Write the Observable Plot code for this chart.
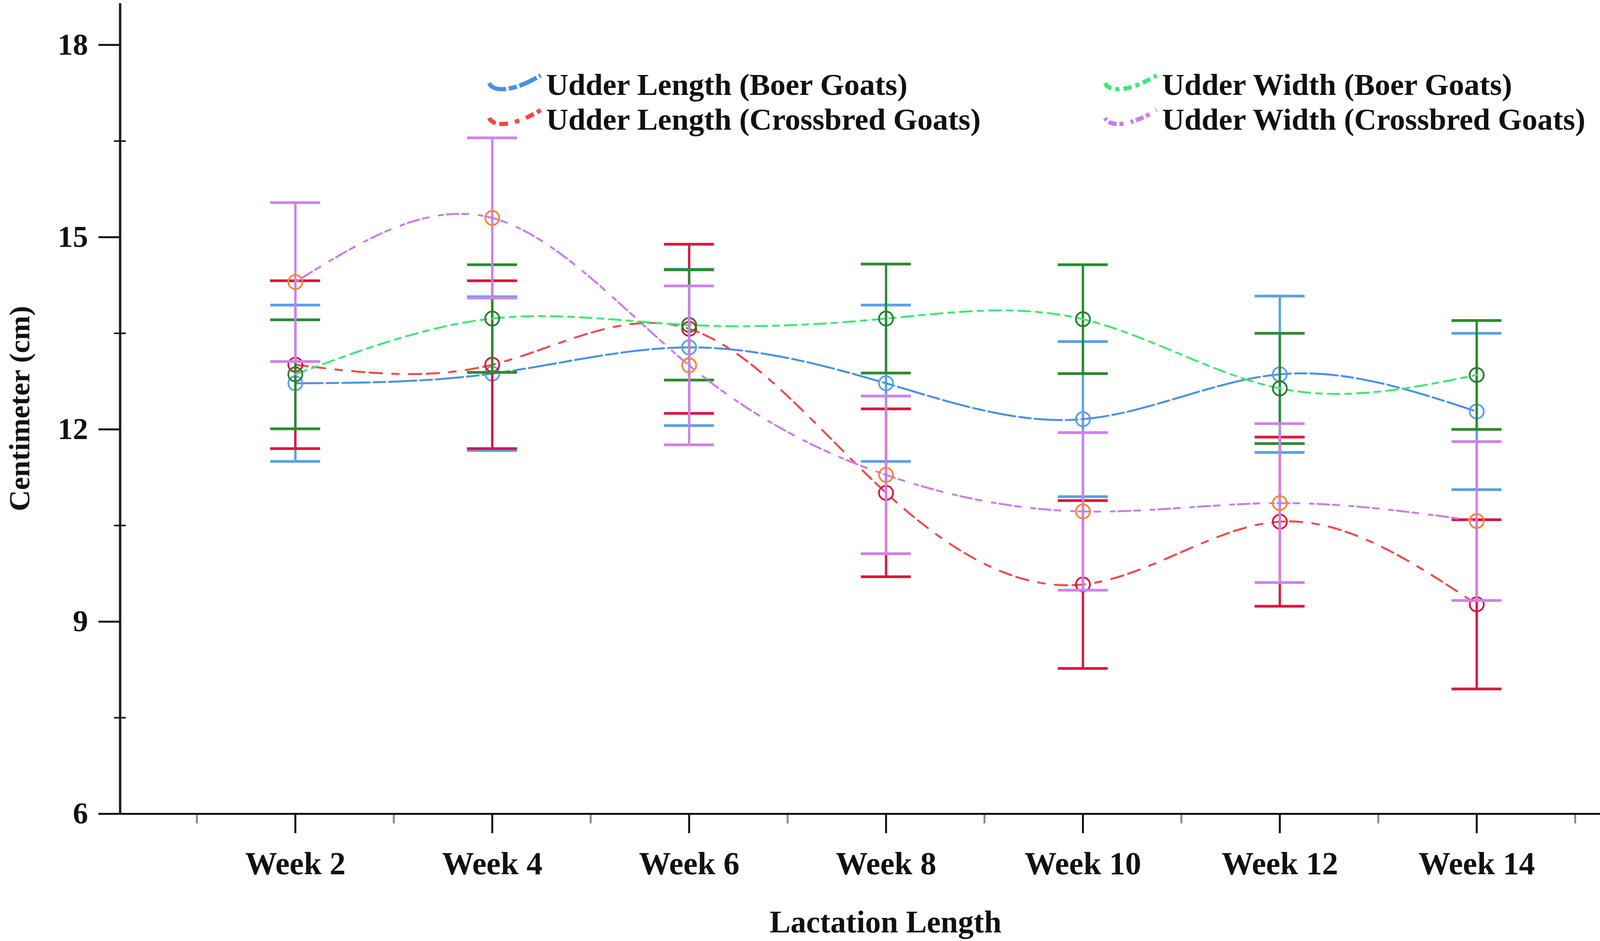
<!DOCTYPE html>
<html>
<head>
<meta charset="utf-8">
<script src="https://cdn.jsdelivr.net/npm/d3@7"></script>
<script src="https://cdn.jsdelivr.net/npm/@observablehq/plot@0.6"></script>
<style>
  html, body { margin: 0; padding: 0; background: #ffffff; }
  #wrap { position: relative; width: 4242px; height: 2409px; background: #fff; }
  #wrap svg { display: block; }
  #legend { position: absolute; left: 0; top: 0; pointer-events: none; }
</style>
</head>
<body>
<div id="wrap"></div>
<script>
// ---------- data ----------
const weeks = [2, 4, 6, 8, 10, 12, 14];
const weekLabels = ["Week 2", "Week 4", "Week 6", "Week 8", "Week 10", "Week 12", "Week 14"];
const minorWeekTicks = [1, 3, 5, 7, 9, 11, 13, 15];
const yTicks = [6, 9, 12, 15, 18];
const yMinorTicks = [7.5, 10.5, 13.5, 16.5];

const seriesNames = [
  "Udder Length (Boer Goats)",
  "Udder Length (Crossbred Goats)",
  "Udder Width (Boer Goats)",
  "Udder Width (Crossbred Goats)"
];

const lengthBoer      = [12.72, 12.87, 13.28, 12.72, 12.16, 12.86, 12.28];
const lengthBoerErr   = [1.22, 1.20, 1.22, 1.22, 1.21, 1.22, 1.22];
const lengthCross     = [13.01, 13.01, 13.57, 11.01, 9.58, 10.56, 9.27];
const lengthCrossErr  = [1.31, 1.31, 1.32, 1.31, 1.31, 1.32, 1.32];
const widthBoer       = [12.86, 13.73, 13.63, 13.73, 13.72, 12.64, 12.85];
const widthBoerErr    = [0.85, 0.84, 0.86, 0.85, 0.85, 0.86, 0.85];
const widthCross      = [14.30, 15.30, 13.00, 11.29, 10.72, 10.85, 10.57];
const widthCrossErr   = [1.24, 1.25, 1.24, 1.23, 1.23, 1.24, 1.24];

const seriesMeans = [lengthBoer, lengthCross, widthBoer, widthCross];
const seriesErrs  = [lengthBoerErr, lengthCrossErr, widthBoerErr, widthCrossErr];

// ---------- styles ----------
const styles = [
  {line: "#4a90e2", bar: "#5c9fe9", dot: "#5c9fe9", dash: "70,10,30,10"},
  {line: "#f24848", bar: "#dc1640", dot: "#dc1640", dash: "32,13,32,26,17,26"},
  {line: "#3de876", bar: "#2b8a2f", dot: "#2b7d2f", dash: "30,15,15,15"},
  {line: "#c97ce9", bar: "#cd82ea", dot: "#f5883a", dash: "10,10,30,10,15,27"}
];
const FONT = "'Liberation Serif', 'Times New Roman', serif";

// ---------- tables ----------
const tables = seriesNames.map((name, s) =>
  weeks.map((w, j) => ({
    series: name,
    week: w,
    mean: seriesMeans[s][j],
    lo: seriesMeans[s][j] - seriesErrs[s][j],
    hi: seriesMeans[s][j] + seriesErrs[s][j]
  }))
);

const xDomain = [0.22, 15.77];
const yDomain = [6, 18.65];

const marks = [];
tables.forEach((rows, s) => {
  const st = styles[s];
  marks.push(
    Plot.ruleX(rows, {x: "week", y1: "lo", y2: "hi", stroke: st.bar, strokeWidth: 6}),
    Plot.ruleY(rows, {y: "hi", x1: "week", x2: "week", insetLeft: -64, insetRight: -64, stroke: st.bar, strokeWidth: 7}),
    Plot.ruleY(rows, {y: "lo", x1: "week", x2: "week", insetLeft: -64, insetRight: -64, stroke: st.bar, strokeWidth: 7}),
    Plot.line(rows, {x: "week", y: "mean", stroke: st.line, strokeWidth: 5, strokeDasharray: st.dash, curve: "natural"}),
    Plot.dot(rows, {x: "week", y: "mean", r: 18, stroke: st.dot, strokeWidth: 4.5, fill: "none"})
  );
});

const chart = Plot.plot({
  width: 4242,
  height: 2409,
  marginLeft: 307,
  marginRight: 16,
  marginTop: 8,
  marginBottom: 326,
  style: {background: "#ffffff", color: "#111", fontFamily: FONT},
  x: {type: "linear", domain: xDomain},
  y: {type: "linear", domain: yDomain},
  marks: [
    // y axis: major and minor ticks
    Plot.axisY({ticks: yTicks, tickSize: 55, tickPadding: 27, strokeWidth: 5, fontSize: 78, fontWeight: "bold", fontFamily: FONT, label: null}),
    Plot.axisY({ticks: yMinorTicks, tickSize: 30, dx: 15, strokeWidth: 4, tickFormat: () => "", label: null}),
    // x axis: major and minor ticks
    Plot.axisX({ticks: weeks, tickSize: 50, tickPadding: 46, strokeWidth: 5, fontSize: 82, fontWeight: "bold", fontFamily: FONT,
      tickFormat: d => weekLabels[weeks.indexOf(d)], label: null}),
    Plot.axisX({ticks: minorWeekTicks, tickSize: 25, strokeWidth: 5, stroke: "#8a8a8a", tickFormat: () => "", label: null}),
    // axis lines
    Plot.ruleX([xDomain[0]], {stroke: "#1a1a1a", strokeWidth: 6}),
    Plot.ruleY([yDomain[0]], {stroke: "#111", strokeWidth: 5}),
    // axis titles
    Plot.text(["Centimeter (cm)"], {frameAnchor: "left", textAnchor: "middle", lineAnchor: "middle", rotate: -90, dx: -257,
      fontSize: 75, fontWeight: "bold", fontFamily: FONT, fill: "#111"}),
    Plot.text(["Lactation Length"], {frameAnchor: "bottom", textAnchor: "middle", lineAnchor: "middle", dy: 278,
      fontSize: 80, fontWeight: "bold", fontFamily: FONT, fill: "#111"}),
    ...marks
  ]
});

const wrap = document.getElementById("wrap");
wrap.appendChild(chart);

// ---------- legend (overlay inside the plot area) ----------
const legendCols = [1252, 2829];
const legendRows = [243, 332];
const legendItems = [
  {s: 0, col: 0, row: 0},
  {s: 1, col: 0, row: 1},
  {s: 2, col: 1, row: 0},
  {s: 3, col: 1, row: 1}
];
const lg = d3.select(wrap).append("svg")
  .attr("id", "legend")
  .attr("width", 4242)
  .attr("height", 2409);
legendItems.forEach(item => {
  const x0 = legendCols[item.col];
  const base = legendRows[item.row];
  const st = styles[item.s];
  lg.append("path")
    .attr("d", `M${x0},${base - 30} C${x0 + 12},${base - 6} ${x0 + 62},${base - 8} ${x0 + 132},${base - 50}`)
    .attr("fill", "none")
    .attr("stroke", st.line)
    .attr("stroke-width", 11)
    .attr("stroke-dasharray", st.dash.split(",").map(v => +v * 0.7).join(","));
  lg.append("text")
    .attr("x", x0 + 146)
    .attr("y", base)
    .attr("font-family", FONT)
    .attr("font-weight", "bold")
    .attr("font-size", 79)
    .attr("fill", "#111")
    .text(seriesNames[item.s]);
});
</script>
</body>
</html>
